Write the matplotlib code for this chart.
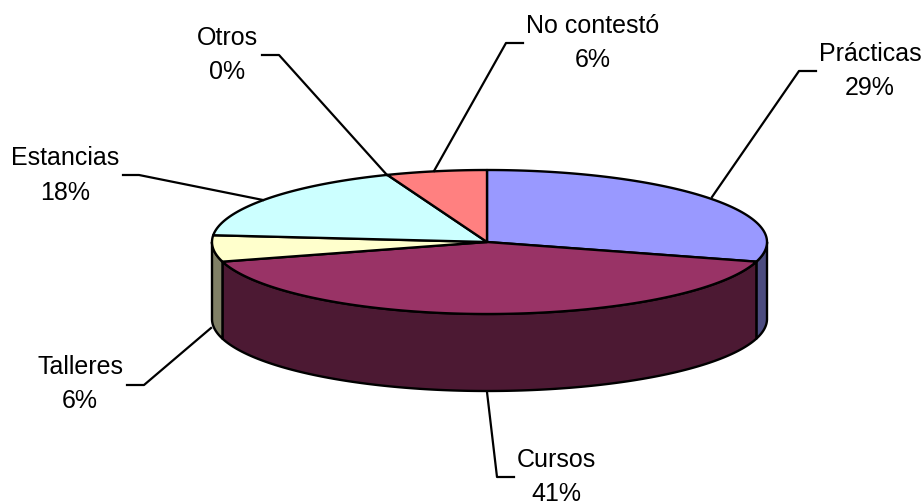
import numpy as np
import matplotlib
matplotlib.use("Agg")
import matplotlib.pyplot as plt

plt.rcParams["font.family"] = ["Liberation Sans", "DejaVu Sans"]

labels = ["Prácticas", "Cursos", "Talleres", "Estancias", "Otros", "No contestó"]
values = [29.4, 41.2, 5.9, 17.6, 0.0, 5.9]
shown = ["29%", "41%", "6%", "18%", "0%", "6%"]
top_colors = ["#9999FF", "#993366", "#FFFFCC", "#CCFFFF", "#660066", "#FF8080"]
side_colors = ["#4C4C80", "#4C1933", "#808066", "#668080", "#330033", "#804040"]

# label text centre and leader line, in picture pixels
text_pos = [(870, 71), (556, 477), (80, 384), (65, 175.5), (227, 55), (593, 43)]
leaders = [
    [(816, 71), (799, 71), (712, 197)],
    [(514, 477), (497, 477), (487, 392)],
    [(127, 385), (144, 385), (211, 328)],
    [(123, 175), (139, 175), (263, 200)],
    [(262, 55), (279, 55), (387, 175)],
    [(523, 43), (506, 43), (434, 171)],
]

# the pie is a bit wider to the right of the hub than to the left
cx, cy = 487, 242
rx_right, rx_left = 280, 275
ry = 72
depth = 77


def rim(t):
    rx = np.where(np.sin(t) >= 0, rx_right, rx_left)
    return cx + rx * np.sin(t), cy - ry * np.cos(t)


edges = np.radians(np.cumsum([0] + values) / sum(values) * 360)

fig = plt.figure(figsize=(9.23, 5.03), dpi=100)
ax = fig.add_axes([0, 0, 1, 1])
ax.set_xlim(0, 923)
ax.set_ylim(503, 0)
ax.axis("off")

# side walls, only the front half of the rim shows
for i in range(len(values)):
    lo, hi = max(edges[i], np.pi / 2), min(edges[i + 1], 3 * np.pi / 2)
    if hi <= lo:
        continue
    t = np.linspace(lo, hi, 200)
    x, y = rim(t)
    ax.fill(np.r_[x, x[::-1]], np.r_[y, y[::-1] + depth], fc=side_colors[i],
            ec="black", lw=1.7, joinstyle="round", zorder=2)

# top faces
for i in range(len(values)):
    if values[i] == 0:
        continue
    t = np.linspace(edges[i], edges[i + 1], 200)
    x, y = rim(t)
    ax.fill(np.r_[cx, x], np.r_[cy, y], fc=top_colors[i], ec="black", lw=1.7,
            joinstyle="round", zorder=3)

for pts in leaders:
    xs, ys = zip(*pts)
    ax.plot(xs, ys, color="black", lw=1.6, zorder=4)

for name, pct, (x, y) in zip(labels, shown, text_pos):
    ax.text(x, y, name + "\n" + pct, ha="center", va="center", fontsize=18,
            linespacing=1.56, color="black", zorder=5)

fig.savefig("out.png", dpi=100)
